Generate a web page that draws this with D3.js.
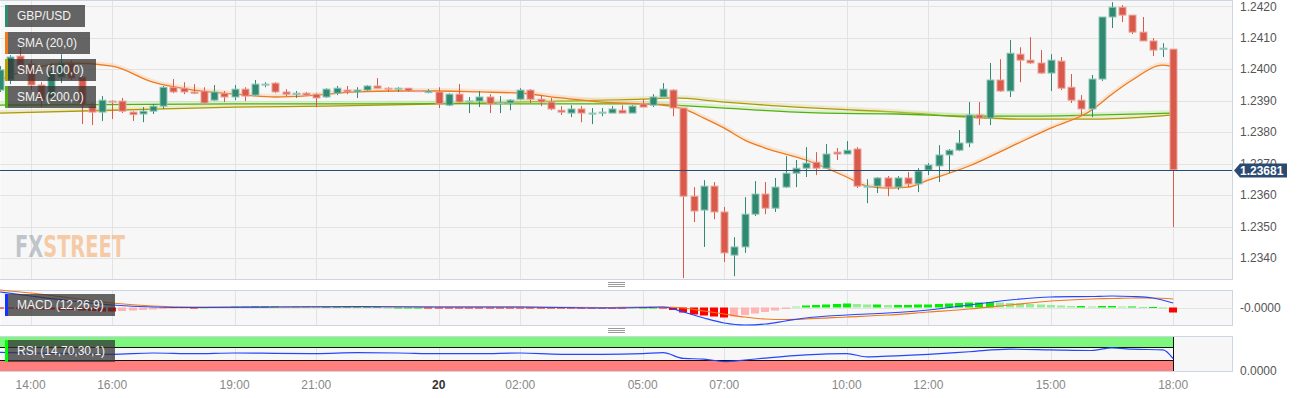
<!DOCTYPE html>
<html>
<head>
<meta charset="utf-8">
<script src="https://cdn.jsdelivr.net/npm/d3@7"></script>
<style>
  body { margin: 0; background: #fff; }
  text { font-family: Arial, "Liberation Sans", sans-serif; }
</style>
</head>
<body>
<svg id="chart" width="1310" height="398"></svg>
<script>
// GBP/USD 15 min candles, first one at 19 13:15
const firstCandle = "19 13:15";
const opens = [
  1.23934, 1.23966, 1.24042, 1.24017, 1.23950, 1.23909, 1.23975, 1.24020, 1.23975, 1.23883,
  1.23864, 1.23899, 1.23899, 1.23864, 1.23858, 1.23867, 1.23883, 1.23943, 1.23940, 1.23928,
  1.23931, 1.23902, 1.23924, 1.23912, 1.23937, 1.23918, 1.23951, 1.23956, 1.23928, 1.23921,
  1.23924, 1.23921, 1.23912, 1.23924, 1.23934, 1.23928, 1.23934, 1.23947, 1.23940, 1.23937,
  1.23940, 1.23932, 1.23926, 1.23928, 1.23886, 1.23921, 1.23896, 1.23899, 1.23912, 1.23890,
  1.23893, 1.23905, 1.23934, 1.23905, 1.23896, 1.23870, 1.23861, 1.23874, 1.23859, 1.23861,
  1.23861, 1.23870, 1.23861, 1.23890, 1.23886, 1.23912, 1.23934, 1.23877, 1.23597, 1.23553,
  1.23629, 1.23547, 1.23410, 1.23436, 1.23540, 1.23604, 1.23559, 1.23626, 1.23670, 1.23686,
  1.23705, 1.23686, 1.23737, 1.23731, 1.23747, 1.23626, 1.23629, 1.23655, 1.23626, 1.23655,
  1.23636, 1.23680, 1.23693, 1.23728, 1.23743, 1.23766, 1.23855, 1.23845, 1.23966, 1.23931,
  1.24048, 1.24029, 1.24020, 1.23988, 1.24026, 1.23943, 1.23902, 1.23874, 1.23969, 1.24166,
  1.24197, 1.24172, 1.24118, 1.24090, 1.24064, 1.24064
];
const highs = [
  1.24010, 1.24045, 1.24070, 1.24029, 1.23959, 1.24020, 1.24048, 1.24029, 1.23978, 1.23893,
  1.23915, 1.23902, 1.23909, 1.23867, 1.23880, 1.23890, 1.23947, 1.23969, 1.23959, 1.23953,
  1.23943, 1.23950, 1.23931, 1.23950, 1.23943, 1.23966, 1.23959, 1.23959, 1.23937, 1.23931,
  1.23928, 1.23924, 1.23940, 1.23947, 1.23947, 1.23943, 1.23950, 1.23972, 1.23943, 1.23943,
  1.23940, 1.23934, 1.23937, 1.23943, 1.23924, 1.23953, 1.23912, 1.23931, 1.23921, 1.23915,
  1.23905, 1.23940, 1.23937, 1.23918, 1.23909, 1.23883, 1.23886, 1.23883, 1.23877, 1.23877,
  1.23883, 1.23886, 1.23886, 1.23905, 1.23921, 1.23956, 1.23937, 1.23877, 1.23626, 1.23648,
  1.23642, 1.23563, 1.23467, 1.23594, 1.23645, 1.23642, 1.23655, 1.23724, 1.23712, 1.23753,
  1.23737, 1.23763, 1.23750, 1.23772, 1.23753, 1.23651, 1.23658, 1.23661, 1.23661, 1.23674,
  1.23686, 1.23702, 1.23759, 1.23747, 1.23807, 1.23896, 1.23896, 1.24020, 1.24032, 1.24093,
  1.24070, 1.24102, 1.24061, 1.24048, 1.24039, 1.23985, 1.23918, 1.23982, 1.24166, 1.24213,
  1.24204, 1.24172, 1.24166, 1.24099, 1.24083, 1.24064
];
const lows = [
  1.23928, 1.23953, 1.23998, 1.23934, 1.23880, 1.23902, 1.23956, 1.23966, 1.23826, 1.23823,
  1.23836, 1.23842, 1.23861, 1.23836, 1.23832, 1.23858, 1.23874, 1.23924, 1.23921, 1.23921,
  1.23890, 1.23899, 1.23896, 1.23902, 1.23899, 1.23915, 1.23943, 1.23924, 1.23915, 1.23909,
  1.23915, 1.23880, 1.23909, 1.23918, 1.23921, 1.23909, 1.23931, 1.23940, 1.23928, 1.23928,
  1.23928, 1.23928, 1.23924, 1.23877, 1.23883, 1.23893, 1.23861, 1.23880, 1.23861, 1.23861,
  1.23870, 1.23902, 1.23893, 1.23883, 1.23870, 1.23855, 1.23848, 1.23832, 1.23826, 1.23851,
  1.23861, 1.23861, 1.23861, 1.23880, 1.23880, 1.23912, 1.23851, 1.23337, 1.23515, 1.23436,
  1.23524, 1.23388, 1.23343, 1.23417, 1.23534, 1.23540, 1.23547, 1.23623, 1.23626, 1.23658,
  1.23664, 1.23686, 1.23712, 1.23731, 1.23623, 1.23575, 1.23607, 1.23597, 1.23617, 1.23626,
  1.23610, 1.23664, 1.23642, 1.23670, 1.23740, 1.23753, 1.23823, 1.23823, 1.23928, 1.23912,
  1.23959, 1.24017, 1.23985, 1.23931, 1.23934, 1.23893, 1.23855, 1.23848, 1.23963, 1.24131,
  1.24150, 1.24112, 1.24090, 1.24042, 1.24039, 1.23499
];
const closes = [
  1.23998, 1.24039, 1.24010, 1.23950, 1.23902, 1.23994, 1.24020, 1.23972, 1.23886, 1.23864,
  1.23902, 1.23896, 1.23867, 1.23856, 1.23867, 1.23883, 1.23943, 1.23928, 1.23928, 1.23924,
  1.23893, 1.23928, 1.23912, 1.23937, 1.23915, 1.23953, 1.23953, 1.23928, 1.23921, 1.23924,
  1.23918, 1.23909, 1.23937, 1.23940, 1.23928, 1.23934, 1.23947, 1.23940, 1.23937, 1.23940,
  1.23931, 1.23931, 1.23931, 1.23890, 1.23921, 1.23896, 1.23899, 1.23912, 1.23890, 1.23893,
  1.23902, 1.23934, 1.23905, 1.23896, 1.23874, 1.23864, 1.23874, 1.23861, 1.23861, 1.23864,
  1.23874, 1.23861, 1.23883, 1.23880, 1.23912, 1.23937, 1.23877, 1.23597, 1.23550, 1.23629,
  1.23547, 1.23417, 1.23436, 1.23540, 1.23604, 1.23559, 1.23626, 1.23670, 1.23686, 1.23702,
  1.23686, 1.23731, 1.23731, 1.23743, 1.23629, 1.23629, 1.23655, 1.23626, 1.23655, 1.23636,
  1.23677, 1.23696, 1.23728, 1.23743, 1.23766, 1.23855, 1.23845, 1.23966, 1.23931, 1.24051,
  1.24029, 1.24020, 1.23988, 1.24029, 1.23940, 1.23902, 1.23874, 1.23969, 1.24166, 1.24197,
  1.24172, 1.24118, 1.24090, 1.24061, 1.24067, 1.23681
];
const lastPrice = 1.23681;

// moving averages
const sma20Times = ["19 13:15","19 14:00","19 15:00","19 16:00","19 17:00","19 18:00","19 19:00","19 20:00",
  "19 21:00","19 22:00","19 23:00","20 00:00","20 01:00","20 02:00","20 03:00","20 04:00","20 05:00",
  "20 05:30","20 06:00","20 06:30","20 07:00","20 07:30","20 08:00","20 09:00","20 10:00","20 10:30",
  "20 11:00","20 11:30","20 12:00","20 13:00","20 14:00","20 15:00","20 16:00","20 16:30","20 17:00",
  "20 17:45","20 18:00"];
const sma20 = [1.23966, 1.24001, 1.24020, 1.24010, 1.23959, 1.23934, 1.23921, 1.23912,
  1.23918, 1.23928, 1.23931, 1.23931, 1.23928, 1.23924, 1.23909, 1.23896, 1.23890,
  1.23886, 1.23874, 1.23845, 1.23813, 1.23775, 1.23750, 1.23712, 1.23658, 1.23629,
  1.23623, 1.23626, 1.23648, 1.23693, 1.23753, 1.23813, 1.23870, 1.23921, 1.23966,
  1.24013, 1.24007];
const smaLongTimes = ["19 13:15","19 16:00","19 19:00","19 21:15","20 00:00","20 03:00","20 05:00",
  "20 05:45","20 07:00","20 08:45","20 10:15","20 11:15","20 13:00","20 14:15","20 16:15","20 18:00"];
const sma100 = [1.23861, 1.23870, 1.23880, 1.23883, 1.23890, 1.23899, 1.23905, 1.23909,
  1.23896, 1.23880, 1.23870, 1.23864, 1.23848, 1.23842, 1.23842, 1.23855];
const sma200 = [1.23886, 1.23888, 1.23890, 1.23890, 1.23891, 1.23890, 1.23890, 1.23886,
  1.23877, 1.23864, 1.23859, 1.23858, 1.23851, 1.23851, 1.23855, 1.23861];

// MACD (12,26,9)
const macdTimes = ["19 13:15","19 14:00","19 15:00","19 16:00","19 17:00","19 18:00","19 20:00","19 22:00",
  "20 00:00","20 02:00","20 04:00","20 05:00","20 05:30","20 06:00","20 06:30","20 07:00","20 07:30",
  "20 08:00","20 08:30","20 09:00","20 10:00","20 11:00","20 12:00","20 13:00","20 14:00","20 15:00",
  "20 16:00","20 16:30","20 17:00","20 17:30","20 18:00"];
const macdLine = [0.00031, 0.00023, 0.00013, 0.00005, 0.00001, 0.00000, 0.00001, 0.00002,
  0.00001, 0.00001, -0.00001, 0.00000, 0.00001, -0.00009, -0.00021, -0.00031, -0.00035,
  -0.00033, -0.00027, -0.00021, -0.00015, -0.00011, -0.00005, 0.00005, 0.00015, 0.00021,
  0.00022, 0.00023, 0.00022, 0.00019, 0.00009];
const signalLine = [0.00035, 0.00029, 0.00019, 0.00009, 0.00003, 0.00001, 0.00001, 0.00001,
  0.00001, 0.00001, 0.00000, 0.00001, 0.00001, -0.00001, -0.00007, -0.00013, -0.00019,
  -0.00023, -0.00024, -0.00023, -0.00019, -0.00015, -0.00009, -0.00003, 0.00005, 0.00013,
  0.00017, 0.00018, 0.00019, 0.00019, 0.00017];
const macdHist = [
  -0.00002, -0.00002, -0.00003, -0.00003, -0.00004, -0.00004, -0.00005, -0.00005, -0.00006, -0.00007,
  -0.00008, -0.00008, -0.00007, -0.00006, -0.00005, -0.00004, -0.00003, -0.00002, -0.00001, -0.00001,
  0.00000, 0.00001, 0.00001, 0.00002, 0.00002, 0.00003, 0.00003, 0.00003, 0.00002, 0.00002,
  0.00002, 0.00001, 0.00001, 0.00001, 0.00001, 0.00001, 0.00001, 0.00001, 0.00000, 0.00000,
  0.00000, 0.00000, -0.00001, -0.00001, -0.00001, -0.00001, -0.00001, -0.00001, -0.00001, -0.00001,
  -0.00001, -0.00001, -0.00001, -0.00001, -0.00001, -0.00001, -0.00001, -0.00001, -0.00001, -0.00001,
  -0.00001, -0.00001, 0.00000, 0.00000, 0.00000, -0.00002, -0.00005, -0.00010, -0.00014, -0.00016,
  -0.00018, -0.00020, -0.00018, -0.00015, -0.00012, -0.00009, -0.00006, -0.00003, 0.00002, 0.00004,
  0.00005, 0.00006, 0.00007, 0.00008, 0.00007, 0.00006, 0.00006, 0.00005, 0.00005, 0.00005,
  0.00006, 0.00006, 0.00007, 0.00008, 0.00009, 0.00010, 0.00010, 0.00011, 0.00010, 0.00009,
  0.00008, 0.00007, 0.00006, 0.00005, 0.00004, 0.00003, 0.00003, 0.00002, 0.00003, 0.00003,
  0.00002, 0.00002, 0.00001, 0.00001, 0.00000, -0.00010
];

// RSI (14)
const rsiTimes = ["19 13:15","19 14:00","19 15:00","19 16:00","19 17:00","19 18:00","19 19:00","19 20:00",
  "19 21:00","19 22:00","19 23:00","20 00:00","20 01:00","20 02:00","20 03:00","20 04:00","20 05:00",
  "20 05:30","20 06:00","20 06:30","20 07:00","20 07:30","20 08:00","20 09:00","20 10:00","20 10:30",
  "20 11:00","20 12:00","20 13:00","20 14:00","20 15:00","20 16:00","20 16:30","20 17:00","20 17:45","20 18:00"];
const rsiValues = [54, 52, 50, 48, 52, 50, 52, 51, 50, 53, 52, 50, 50, 52, 48, 48, 50,
  53, 35, 33, 25, 30, 36, 46, 50, 40, 42, 48, 56, 64, 62, 60, 68, 64, 62, 34];

const tickTimes = ["19 14:00","19 16:00","19 19:00","19 21:00","20 00:00","20 02:00","20 05:00",
  "20 07:00","20 10:00","20 12:00","20 15:00","20 18:00"];
const tickLabels = ["14:00","16:00","19:00","21:00","20","02:00","05:00","07:00","10:00","12:00","15:00","18:00"];
const priceTicks = [1.2340, 1.2350, 1.2360, 1.2370, 1.2380, 1.2390, 1.2400, 1.2410, 1.2420];

const parse = d3.timeParse("%d %H:%M");
const t0 = parse(firstCandle);
const candles = opens.map((o, i) => ({
  t: d3.timeMinute.offset(t0, 15 * i), o, h: highs[i], l: lows[i], c: closes[i], hist: macdHist[i]
}));

const svg = d3.select("#chart");
const plotW = 1233;
const price = { top: 0, bottom: 280 };
const macdP = { top: 290, bottom: 326 };
const rsiP = { top: 336, bottom: 372 };

const x = d3.scaleTime()
  .domain([parse("19 13:15"), parse("20 19:28")])
  .range([0, plotW]);
const y = d3.scaleLinear().domain([1.23331, 1.24220]).range([price.bottom, price.top]);
const yMacd = d3.scaleLinear().domain([-0.00037, 0.00035]).range([macdP.bottom, macdP.top]);
const yRsi = d3.scaleLinear().domain([30, 70]).range([360, 347.3]);

const gridColor = "#e3e3e3";
const borderColor = "#cdd4e2";

// panels
[price, macdP, rsiP].forEach(p => {
  svg.append("rect")
    .attr("x", 0.5).attr("y", p.top + 0.5)
    .attr("width", plotW - 1).attr("height", p.bottom - p.top - 1)
    .attr("fill", "#f7f7f7");
  svg.append("g").selectAll("line")
    .data(tickTimes.map(parse))
    .join("line")
    .attr("x1", d => Math.round(x(d)) + 0.5).attr("x2", d => Math.round(x(d)) + 0.5)
    .attr("y1", p.top).attr("y2", p.bottom)
    .attr("stroke", gridColor);
});

svg.append("g").selectAll("line")
  .data(priceTicks)
  .join("line")
  .attr("x1", 0).attr("x2", plotW)
  .attr("y1", d => Math.round(y(d)) + 0.5).attr("y2", d => Math.round(y(d)) + 0.5)
  .attr("stroke", gridColor);

// watermark
const wm = svg.append("text")
  .attr("x", 15).attr("y", 257)
  .attr("font-size", 30).attr("font-weight", "bold")
  .style("font-family", "'DejaVu Sans Condensed', 'DejaVu Sans', sans-serif")
  .attr("textLength", 110).attr("lengthAdjust", "spacingAndGlyphs");
wm.append("tspan").attr("fill", "#8f99a6").attr("fill-opacity", 0.55).text("FX");
wm.append("tspan").attr("fill", "#f3a55f").attr("fill-opacity", 0.55).text("STREET");

// moving averages
const smaLine = d3.line().curve(d3.curveMonotoneX);
function drawSma(times, vals, color, halo) {
  const pts = times.map((t, i) => [x(parse(t)), y(vals[i])]);
  svg.append("path").attr("d", smaLine(pts.map(p => [p[0], p[1] - 1.5])))
    .attr("fill", "none").attr("stroke", halo).attr("stroke-width", 3).attr("stroke-opacity", 0.35);
  svg.append("path").attr("d", smaLine(pts))
    .attr("fill", "none").attr("stroke", color).attr("stroke-width", 1.3);
}
drawSma(smaLongTimes, sma100, "#ab9c00", "#d9d08a");
drawSma(smaLongTimes, sma200, "#52b10f", "#a9e38c");
drawSma(sma20Times, sma20, "#f07a1c", "#f8c08e");

// candles
const up = "#2f8a71", down = "#d95a4a";
const cg = svg.append("g");
cg.selectAll("line")
  .data(candles)
  .join("line")
  .attr("x1", d => Math.round(x(d.t)) + 0.5).attr("x2", d => Math.round(x(d.t)) + 0.5)
  .attr("y1", d => y(d.h)).attr("y2", d => y(d.l))
  .attr("stroke", d => d.c >= d.o ? up : down);
cg.selectAll("rect")
  .data(candles)
  .join("rect")
  .attr("x", d => Math.round(x(d.t)) - 3)
  .attr("width", 7)
  .attr("y", d => y(Math.max(d.o, d.c)))
  .attr("height", d => Math.max(1, Math.abs(y(d.o) - y(d.c))))
  .attr("fill", d => d.c >= d.o ? up : down)
  .attr("stroke", d => d.c >= d.o ? "#93c6b7" : "#eaa49b")
  .attr("stroke-width", 1);

// last price line
svg.append("line")
  .attr("x1", 0).attr("x2", plotW)
  .attr("y1", Math.round(y(lastPrice)) + 0.5).attr("y2", Math.round(y(lastPrice)) + 0.5)
  .attr("stroke", "#2b4a72").attr("stroke-width", 1.2);

// borders
[price, macdP, rsiP].forEach(p => {
  svg.append("rect")
    .attr("x", -1).attr("y", p.top + 0.5)
    .attr("width", plotW + 0.5).attr("height", p.bottom - p.top - 1)
    .attr("fill", "none").attr("stroke", borderColor);
});

// price axis
svg.append("g").selectAll("text")
  .data(priceTicks)
  .join("text")
  .attr("x", 1240).attr("y", d => y(d)).attr("dy", "0.35em")
  .attr("font-size", 12).attr("fill", "#555")
  .text(d => d3.format(".4f")(d));

const ly = Math.round(y(lastPrice)) + 0.5;
svg.append("path")
  .attr("d", `M1234,${ly} L1240,${ly - 7} L1287,${ly - 7} L1287,${ly + 7} L1240,${ly + 7} Z`)
  .attr("fill", "#2b4a72");
svg.append("text")
  .attr("x", 1240).attr("y", ly).attr("dy", "0.36em")
  .attr("font-size", 12).attr("font-weight", "bold").attr("fill", "#fff")
  .text(d3.format(".5f")(lastPrice));

// MACD panel
svg.append("line")
  .attr("x1", 0).attr("x2", plotW)
  .attr("y1", Math.round(yMacd(0)) + 0.5).attr("y2", Math.round(yMacd(0)) + 0.5)
  .attr("stroke", gridColor);
svg.append("g").selectAll("rect")
  .data(candles)
  .join("rect")
  .attr("x", d => Math.round(x(d.t)) - 4)
  .attr("width", 8)
  .attr("y", d => Math.min(yMacd(0), yMacd(d.hist)))
  .attr("height", d => Math.max(1, Math.abs(yMacd(d.hist) - yMacd(0))))
  .attr("fill", (d, i) => {
    const prev = i > 0 ? Math.abs(candles[i - 1].hist) : 0;
    const grow = Math.abs(d.hist) >= prev;
    if (d.hist >= 0) return grow ? "#00ee00" : "#95ee95";
    return grow ? "#ff0000" : "#ffb3b3";
  });
const macdPath = d3.line().curve(d3.curveMonotoneX);
svg.append("path")
  .attr("d", macdPath(macdTimes.map((t, i) => [x(parse(t)), yMacd(signalLine[i])])))
  .attr("fill", "none").attr("stroke", "#f07a1c").attr("stroke-width", 1.2);
svg.append("path")
  .attr("d", macdPath(macdTimes.map((t, i) => [x(parse(t)), yMacd(macdLine[i])])))
  .attr("fill", "none").attr("stroke", "#2346ff").attr("stroke-width", 1.2);
svg.append("text")
  .attr("x", 1240).attr("y", yMacd(0)).attr("dy", "0.35em")
  .attr("font-size", 12).attr("fill", "#555").text("-0.0000");

// RSI panel
const lastX = x(candles[candles.length - 1].t);
svg.append("rect").attr("x", 0).attr("y", rsiP.top + 1)
  .attr("width", lastX).attr("height", yRsi(70) - rsiP.top - 1)
  .attr("fill", "#7ef77e");
svg.append("rect").attr("x", 0).attr("y", yRsi(30))
  .attr("width", lastX).attr("height", rsiP.bottom - 1 - yRsi(30))
  .attr("fill", "#ff7f7f");
[70, 30].forEach(v => {
  svg.append("line").attr("x1", 0).attr("x2", lastX)
    .attr("y1", Math.round(yRsi(v)) + 0.5).attr("y2", Math.round(yRsi(v)) + 0.5)
    .attr("stroke", "#111");
});
svg.append("line").attr("x1", Math.round(lastX) + 0.5).attr("x2", Math.round(lastX) + 0.5)
  .attr("y1", rsiP.top + 1).attr("y2", rsiP.bottom - 1).attr("stroke", "#111");
svg.append("path")
  .attr("d", d3.line().curve(d3.curveMonotoneX)(rsiTimes.map((t, i) => [x(parse(t)), yRsi(rsiValues[i])])))
  .attr("fill", "none").attr("stroke", "#2346ff").attr("stroke-width", 1.2);
svg.append("text")
  .attr("x", 1240).attr("y", 371).attr("dy", "0.35em")
  .attr("font-size", 12).attr("fill", "#555").text("0.0000");

// panel grips
[284, 330].forEach(gy => {
  [0, 2, 4].forEach(o => {
    svg.append("line").attr("x1", 608).attr("x2", 625)
      .attr("y1", gy - 2 + o + 0.5).attr("y2", gy - 2 + o + 0.5)
      .attr("stroke", "#9a9a9a");
  });
});

// time axis
svg.append("g").selectAll("text")
  .data(tickTimes)
  .join("text")
  .attr("x", d => x(parse(d))).attr("y", 385).attr("dy", "0.35em")
  .attr("text-anchor", "middle").attr("font-size", 12)
  .attr("font-weight", (d, i) => tickLabels[i] === "20" ? "bold" : "normal")
  .attr("fill", (d, i) => tickLabels[i] === "20" ? "#333" : "#888")
  .text((d, i) => tickLabels[i]);

// legend boxes
const legends = [
  { label: "GBP/USD", color: "#2f8a71", y: 5, w: 80 },
  { label: "SMA (20,0)", color: "#f07a1c", y: 32, w: 85 },
  { label: "SMA (100,0)", color: "#b3a300", y: 59, w: 91 },
  { label: "SMA (200,0)", color: "#52b10f", y: 86, w: 91 },
  { label: "MACD (12,26,9)", color: "#1533ff", y: 294, w: 110 },
  { label: "RSI (14,70,30,1)", color: "#00ff00", y: 340, w: 110 }
];
const lg = svg.append("g").selectAll("g").data(legends).join("g");
lg.append("rect").attr("x", 5).attr("y", d => d.y).attr("width", d => d.w).attr("height", 22)
  .attr("fill", "#333").attr("fill-opacity", 0.75);
lg.append("rect").attr("x", 5).attr("y", d => d.y).attr("width", 3).attr("height", 22)
  .attr("fill", d => d.color);
lg.append("text").attr("x", 17).attr("y", d => d.y + 11).attr("dy", "0.36em")
  .attr("font-size", 12).attr("fill", "#f2f2f2").text(d => d.label);
</script>
</body>
</html>
